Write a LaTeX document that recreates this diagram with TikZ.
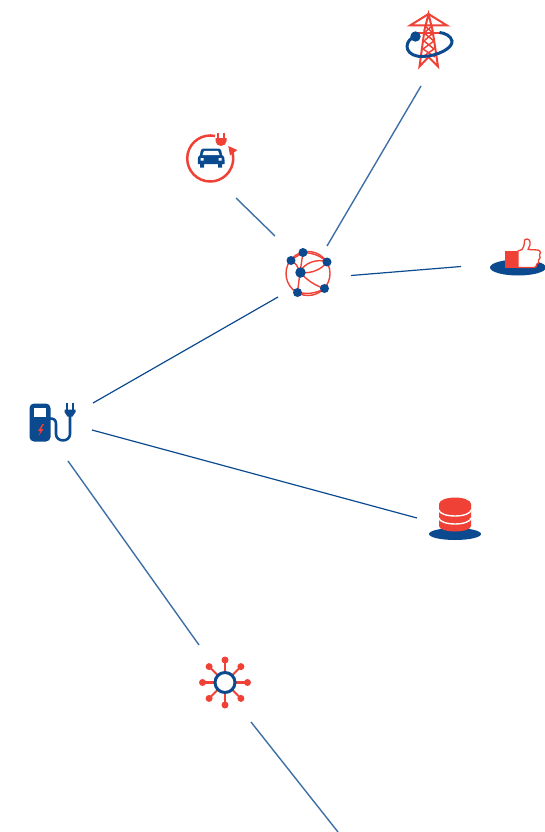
\documentclass[tikz,border=0pt]{standalone}
\definecolor{rd}{HTML}{EF4136}
\definecolor{bl}{HTML}{0B4A8E}
\definecolor{lbl}{HTML}{3E6FA6}
\tikzset{
 link/.style={draw=bl,line width=1.2pt},
 linkl/.style={draw=lbl,line width=1.4pt},
 rline/.style={draw=rd,line width=1.4pt},
 dot/.style={circle,fill=bl,inner sep=0pt,minimum size=9pt},
}
\begin{document}
\begin{tikzpicture}[x=1pt,y=-1pt]
\useasboundingbox (0,0) rectangle (545,832);
\clip (0,0) rectangle (545,832);
% connector ends
\coordinate (tw) at (421,86); \coordinate (hubT) at (327,246);
\coordinate (car) at (236,198); \coordinate (hubC) at (275,236);
\coordinate (hubR) at (351,275.5); \coordinate (th) at (461,266.5);
\coordinate (hubS) at (278,297); \coordinate (stH) at (93,403);
\coordinate (stD) at (92,430); \coordinate (db) at (417,518);
\coordinate (stN) at (68,461); \coordinate (nw) at (199,645);
\coordinate (nwB) at (251,722); \coordinate (off) at (338,832);
\draw[linkl] (tw) -- (hubT);
\draw[linkl] (car) -- (hubC);
\draw[link] (hubR) -- (th);
\draw[link] (hubS) -- (stH);
\draw[link] (stD) -- (db);
\draw[linkl] (stN) -- (nw);
\draw[linkl] (nwB) -- (off);
% pylon
\begin{scope}[rd,line width=2pt,line join=miter]
\draw (419.5,66.5) -- (424.5,30) -- (428.5,14) -- (432.5,30) -- (438,66.5) -- (428.5,57) -- cycle;
\draw (410,25.5) -- (428.5,14) -- (447,25.5) -- cycle;
\draw[line width=1.5pt] (417,33) -- (440,33);
\draw[line width=1.5pt] (424.5,25.5) -- (433,33) -- (424,41) -- (434,49) -- (422.5,57);
\draw[line width=1.5pt] (432.5,25.5) -- (424,33) -- (434,41) -- (423,49) -- (435,57);
\end{scope}
\draw[bl,line width=3pt] (412,38) .. controls (403,44) and (406,57) .. (423,56.5) .. controls (438,56) and (453,48) .. (452,41) .. controls (451,36) and (445,33) .. (439.5,32.5);
\fill[bl] (415.5,36.5) circle (5.2);
% car
\draw[rd,line width=2.5pt] (215,136) arc[start angle=-78,delta angle=-308,radius=23];
\fill[rd] (228.3,146) -- (237.3,150) -- (230,155.5) -- cycle;
\draw[rd,line width=1.6pt] (218,133.5) -- (218,139) (224,133.5) -- (224,139);
\fill[rd] (215.5,138) -- (226.5,138) -- (226.5,141) arc[start angle=0,end angle=180,x radius=5.5,y radius=5] -- cycle;
\fill[bl] (203,148.5) -- (219,148.5) .. controls (220.5,148.5) and (221.5,150) .. (222,155) .. controls (224.5,156) and (224.5,158) .. (224.5,160) -- (224.5,164) -- (222,164) -- (222,167.5) -- (218,167.5) -- (218,164) -- (204,164) -- (204,167.5) -- (200,167.5) -- (200,164) -- (197.8,164) -- (197.8,160) .. controls (197.8,158) and (198,156) .. (200,155) .. controls (200.5,150) and (201.5,148.5) .. cycle;
\fill[white] (204,150.8) -- (218,150.8) -- (219.5,155) -- (202.5,155) -- cycle;
\fill[white] (200.5,158) rectangle (203.5,160.5) (218.5,158) rectangle (221.5,160.5);
% hub
\draw[rline] (308,273.5) circle (22);
\draw[rline] (291,260) -- (303,252.5);
\draw[rline] (303,252.5) .. controls (315,253) and (322,257) .. (327,262);
\draw[rline] (291,260) .. controls (296,263) and (298,267) .. (300,272.5);
\draw[rline] (303,252.5) -- (300,272.5) -- (297.5,292);
\draw[rline] (300,272.5) .. controls (312,274) and (322,269) .. (327,262);
\draw[rline] (300,272.5) .. controls (303,263) and (318,258) .. (327,262);
\draw[rline] (300,272.5) .. controls (308,281) and (316,286) .. (324.5,288.5);
\draw[rline] (297.5,292) .. controls (307,295) and (317,293) .. (324.5,288.5);
\node[dot] (h1) at (291,260.5) {};
\node[dot] (h2) at (303,252.5) {};
\node[dot] (h3) at (327,262) {};
\node[dot,minimum size=10.5pt] (h4) at (300.5,272.5) {};
\node[dot] (h5) at (324.5,288.5) {};
\node[dot] (h6) at (297.5,292.5) {};
% thumb
\fill[bl] (518,267.5) ellipse (28 and 8);
\fill[rd] (505,250.5) rectangle (517.5,268);
\draw[rd,line width=1.3pt,fill=white,line join=round] (518,251) -- (522,249.5) .. controls (525,246) and (524,241) .. (525,239.5) .. controls (528,238) and (531,240) .. (530,245) -- (528,249.5) -- (538,250) .. controls (541,251) and (541,254) .. (539.5,255) .. controls (541,257) and (540,259) .. (538.5,260) .. controls (539,262) and (538.5,264) .. (536.5,264.5) .. controls (537,266) and (536,267.5) .. (534,267.5) -- (518,267.5) -- cycle;
% station
\fill[bl,rounded corners=4.5pt] (29.5,403.5) rectangle (50.5,441.5);
\fill[white] (33.8,407.7) rectangle (46.2,417);
\fill[rd] (42.5,424) -- (38,431) -- (40.5,431) -- (38.5,436) -- (43.5,429) -- (41,429) -- (44,424) -- cycle;
\draw[bl,line width=2.6pt] (50,418.5) .. controls (54,418.5) and (56,420) .. (56,424) -- (56,434) .. controls (56,442.5) and (70,442.5) .. (70,434) -- (70,414);
\fill[bl] (64.5,409.5) -- (75.5,409.5) -- (75.5,412) -- (72.5,416.5) -- (67.5,416.5) -- (64.5,412) -- cycle;
\draw[bl,line width=2pt] (66.7,403) -- (66.7,410) (73,403) -- (73,410);
% database
\fill[bl] (455,534) ellipse (26 and 6);
\fill[rd] (439,504) -- (439,526) arc[start angle=180,end angle=0,x radius=16,y radius=5.5] -- (471,504) -- cycle;
\fill[rd] (455,504) ellipse (16 and 6.5);
\draw[white,line width=1.4pt] (439,510) arc[start angle=180,end angle=0,x radius=16,y radius=6];
\draw[white,line width=1.4pt] (439,518) arc[start angle=180,end angle=0,x radius=16,y radius=6];
% network star
\foreach \a in {0,45,...,315}{
 \draw[rd,line width=2.1pt] (225,682.5) -- ++(\a:22.5);
 \fill[rd] (225,682.5) ++(\a:22.5) circle (3.5);
}
\node[circle,draw=bl,fill=white,line width=3pt,minimum size=20pt,inner sep=0pt] (nwc) at (225,682.5) {};
\end{tikzpicture}
\end{document}
